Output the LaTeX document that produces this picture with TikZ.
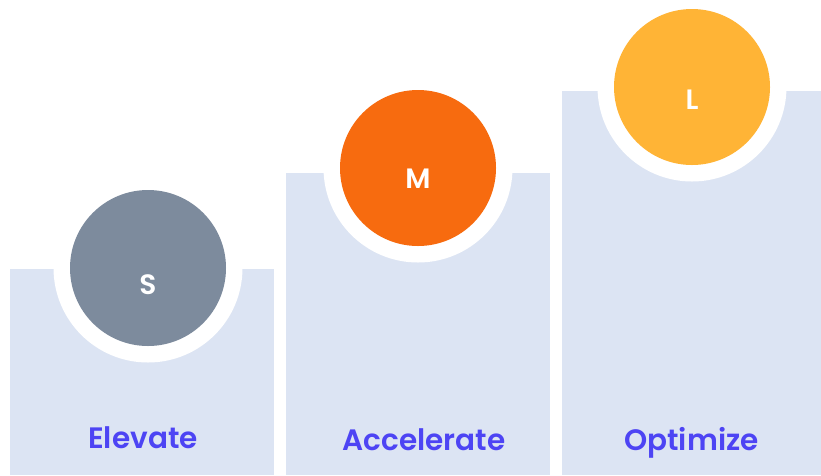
\documentclass[tikz,border=0pt]{standalone}
\usepackage{fontspec}
\setmainfont{Poppins}[BoldFont={Poppins SemiBold}]
\usepackage{tikz}
\usetikzlibrary{positioning}
\tikzstyle{every node}=[font=\bfseries]
\tikzstyle{every path}=[line width=0pt,line cap=round,line join=round]

\begin{document}
\begin{tikzpicture}[x=1pt,y=-1pt]
\definecolor{colbg}{HTML}{DCE4F3}
\definecolor{sgray}{HTML}{7D8B9D}
\definecolor{morange}{HTML}{F76B0F}
\definecolor{lyellow}{HTML}{FFB436}
\definecolor{txtblue}{HTML}{4D44F4}
\tikzset{
  ring/.style={circle,fill=white,draw=none,inner sep=0pt,minimum size=189pt},
  disc/.style={circle,draw=none,inner sep=0pt,minimum size=156pt},
  letter/.style={text=white,font=\fontsize{28}{28}\selectfont\bfseries,anchor=base,inner sep=0pt},
  steplabel/.style={text=txtblue,font=\fontsize{29.5}{29.5}\selectfont\bfseries,anchor=base,inner sep=0pt}
}
\useasboundingbox (0,0) rectangle (821,475);

% columns
\fill [colbg] (10,269) rectangle (274,475);
\fill [colbg] (286,173) rectangle (550,475);
\fill [colbg] (562,91) rectangle (821,475);

% white notches
\node [ring] (ringS) at (148,268) {};
\node [ring] (ringM) at (418,168) {};
\node [ring] (ringL) at (692,87) {};

% circles
\node [disc,fill=sgray] (small) at (148,268) {};
\node [disc,fill=morange] (medium) at (418,168) {};
\node [disc,fill=lyellow] (large) at (692,87) {};

\node [letter] (sS) at (148,294) {S};
\node [letter] (sM) at (418,188.5) {M};
\node [letter] (sL) at (692,109) {L};

% labels
\node [steplabel] (elevate) at (143,448.5) {Elevate};
\node [steplabel] (accel) at (424,450.5) {Accelerate};
\node [steplabel] (optim) at (691.5,450) {Optimize};
\end{tikzpicture}
\end{document}
